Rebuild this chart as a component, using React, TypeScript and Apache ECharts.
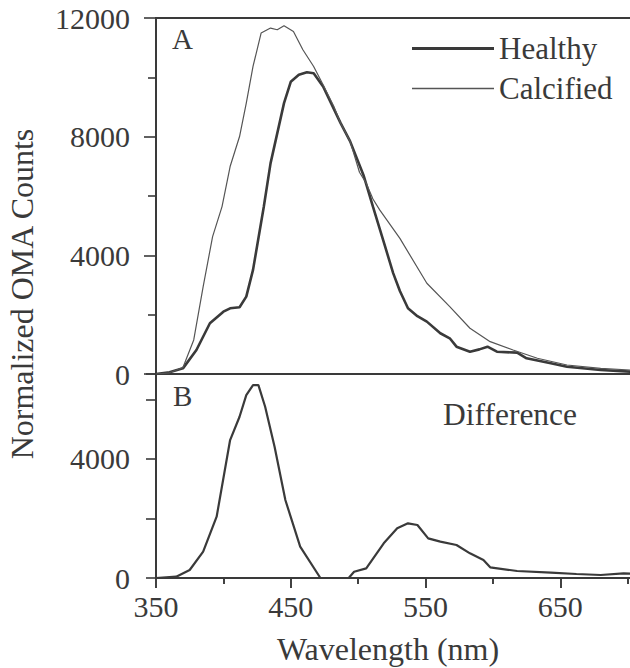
import React, { useEffect, useRef, useState } from "react";
import * as echarts from "echarts";

// ---- data ----
const healthyWl = [350,360,370,380,390,400,405,412,417,422,430,435,445,450,456,462,467,474,487,494,504,511,520,526,531,537,544,551,561,568,573,583,590,596,603,618,625,643,655,680,702];
const healthyVal = [0,55,190,810,1710,2100,2215,2250,2610,3510,5640,7100,9130,9850,10085,10170,10140,9690,8455,7850,6700,5640,4300,3400,2800,2215,1950,1765,1373,1204,921,752,830,921,752,719,530,360,246,135,78];

const calcWl = [350,360,370,378,385,392,399,405,412,417,422,428,435,440,445,452,459,467,474,482,487,494,501,506,511,516,531,551,568,583,598,615,633,655,680,702];
const calcVal = [0,40,220,1147,2945,4631,5643,6993,8004,9130,10366,11492,11660,11603,11738,11546,10929,10366,9750,9016,8455,7850,6800,6432,5900,5532,4570,3059,2270,1541,1090,810,530,304,190,135];

const diffWl = [350,365,375,385,395,405,412,417,422,426,431,438,446,457,472,493,497,506,519,529,537,544,552,561,573,583,593,598,618,643,662,680,697,702];
const diffVal = [0,44,269,885,2060,4637,5420,6149,6485,6485,5756,4412,2621,1053,0,0,212,325,1165,1670,1837,1781,1333,1221,1109,829,605,359,235,179,134,100,157,150];

// axis ranges / tick steps (x axis runs past the right edge of the picture, as in the reference)
const X_MIN = 350, X_MAX = 750, X_STEP = 100;
const xLabels = [350, 450, 550, 650];
const YA_MAX = 12000, YA_STEP = 4000;
const YB_MAX = 6857, YB_STEP = 2000;
const yBLabels = [0, 4000];

const FONT = "Liberation Serif";
const INK = "#3a3a3a";

const pairs = (xs: number[], ys: number[]) => xs.map((x, i) => [x, ys[i]]);

const HEALTHY_ICON = "path://M0,0L0.01,0L0.01,0.01ZM0,5.6L82,5.6L82,8.4L0,8.4ZM0,14L0.01,14L0.01,13.99Z";
const CALC_ICON = "path://M0,0L0.01,0L0.01,0.01ZM0,6.3L82,6.3L82,7.7L0,7.7ZM0,14L0.01,14L0.01,13.99Z";

export default function App() {
  const ref = useRef<HTMLDivElement>(null);
  const [dbg, setDbg] = useState("");
  useEffect(() => {
    if (!ref.current) return;
    const logs: string[] = [];
    const origErr = console.error;
    console.error = (...a: any[]) => { logs.push("ERR " + a.map(String).join(" ").slice(0, 200)); };
    const chart = echarts.init(ref.current, undefined, { renderer: "svg" });
    const line = () => ({ show: true, onZero: false, lineStyle: { color: INK, width: 2 } });
    const tick = (length: number, inside: boolean) => ({ show: true, length, inside, lineStyle: { color: INK, width: 1.6 } });
    const minor = (length: number) => ({ show: true, splitNumber: 2, length, lineStyle: { color: INK, width: 1.6 } });
    const label = () => ({ fontFamily: FONT, fontSize: 30, color: INK });
    try {
      chart.setOption({
        animation: false,
        backgroundColor: "#ffffff",
        grid: [
          { left: 156, top: 18, width: 539, height: 356, show: true, borderColor: INK, borderWidth: 2, backgroundColor: "transparent", containLabel: false, outerBoundsMode: "none" },
          { left: 156, top: 374, width: 539, height: 204, containLabel: false, outerBoundsMode: "none" },
        ],
        xAxis: [
          { type: "value", gridIndex: 0, min: X_MIN, max: X_MAX, interval: X_STEP, axisLine: { show: false }, axisTick: { show: false }, axisLabel: { show: false }, splitLine: { show: false } },
          {
            type: "value", gridIndex: 1, position: "bottom", min: X_MIN, max: X_MAX, interval: X_STEP,
            axisLine: line(), axisTick: tick(10, false), minorTick: minor(6), splitLine: { show: false },
            axisLabel: { show: true, margin: 13, ...label(), formatter: (v: number) => (xLabels.includes(v) ? String(v) : "") },
          },
          {
            type: "value", gridIndex: 1, position: "top", min: X_MIN, max: X_MAX, interval: X_STEP,
            axisLine: { show: false }, axisTick: tick(10, true), minorTick: minor(6), splitLine: { show: false },
            axisLabel: { show: false },
          },
        ],
        yAxis: [
          {
            type: "value", gridIndex: 0, min: 0, max: YA_MAX, interval: YA_STEP,
            axisLine: line(), splitLine: { show: false },
            axisTick: tick(12, false), minorTick: minor(8),
            axisLabel: { show: true, margin: 26, ...label(), formatter: (v: number) => String(v) },
          },
          {
            type: "value", gridIndex: 1, min: 0, max: YB_MAX, interval: YB_STEP,
            axisLine: line(), splitLine: { show: false },
            axisTick: tick(10, false),
            axisLabel: { show: true, margin: 26, ...label(), formatter: (v: number) => (yBLabels.includes(v) ? String(v) : "") },
          },
        ],
        legend: {
          orient: "vertical", left: 407, top: 28, itemWidth: 82, itemHeight: 14, itemGap: 9,
          textStyle: { fontFamily: FONT, fontSize: 31, color: INK },
          data: [
            { name: "Healthy", icon: HEALTHY_ICON, itemStyle: { color: INK } },
            { name: "Calcified", icon: CALC_ICON, itemStyle: { color: "#555555" } },
          ],
          selectedMode: false,
        },
        series: [
          {
            name: "Healthy", type: "line", xAxisIndex: 0, yAxisIndex: 0, symbol: "none", showSymbol: false,
            lineStyle: { color: INK, width: 2.6 }, itemStyle: { color: INK },
            data: pairs(healthyWl, healthyVal),
          },
          {
            name: "Calcified", type: "line", xAxisIndex: 0, yAxisIndex: 0, symbol: "none", showSymbol: false,
            lineStyle: { color: "#555555", width: 1.2 }, itemStyle: { color: "#555555" },
            data: pairs(calcWl, calcVal),
          },
          {
            name: "Difference", type: "line", xAxisIndex: 1, yAxisIndex: 1, symbol: "none", showSymbol: false,
            lineStyle: { color: INK, width: 2.2 }, itemStyle: { color: INK },
            data: pairs(diffWl, diffVal),
          },
        ],
        graphic: [
          { type: "text", x: 172, y: 39, style: { text: "A", fill: INK, fontFamily: FONT, fontSize: 29, align: "left", verticalAlign: "middle" } },
          { type: "text", x: 173, y: 396, style: { text: "B", fill: INK, fontFamily: FONT, fontSize: 29, align: "left", verticalAlign: "middle" } },
          { type: "text", x: 443, y: 414, style: { text: "Difference", fill: INK, fontFamily: FONT, fontSize: 31.5, align: "left", verticalAlign: "middle" } },
          { type: "text", x: 388, y: 649, style: { text: "Wavelength (nm)", fill: INK, fontFamily: FONT, fontSize: 32, align: "center", verticalAlign: "middle" } },
          { type: "text", x: 22, y: 294, rotation: Math.PI / 2, style: { text: "Normalized OMA Counts", fill: INK, fontFamily: FONT, fontSize: 32, align: "center", verticalAlign: "middle" } },
        ],
      });
    } catch (e: any) {
      logs.push("THROW " + String(e && e.stack ? e.stack : e).slice(0, 300));
    }
    console.error = origErr;
    const svg = ref.current.querySelector("svg");
    if (svg) {
      const ticks = Array.from(svg.querySelectorAll("path")).filter((p) => /^M[\d.]+ [\d.]+L[\d.]+ [\d.]+$/.test(p.getAttribute("d") || "")).length;
      const t = svg.querySelector("text");
      const fam = t ? getComputedStyle(t).fontFamily : "";
      if (ticks < 10 || logs.length || !/Liberation Serif/.test(fam)) {
        setDbg(["ticks=" + ticks, "fam=" + fam, "style=" + (t ? t.getAttribute("style") : ""), ...logs].join("\n"));
      }
    }
    return () => chart.dispose();
  }, []);
  return (
    <div>
      <div ref={ref} style={{ position: "fixed", left: 0, top: 0, width: 630, height: 668 }} />
      {dbg ? (
        <pre style={{ position: "fixed", left: 170, top: 440, width: 440, fontSize: 9, margin: 0, background: "rgba(255,255,220,0.9)", whiteSpace: "pre-wrap" }}>{dbg}</pre>
      ) : null}
    </div>
  );
}
